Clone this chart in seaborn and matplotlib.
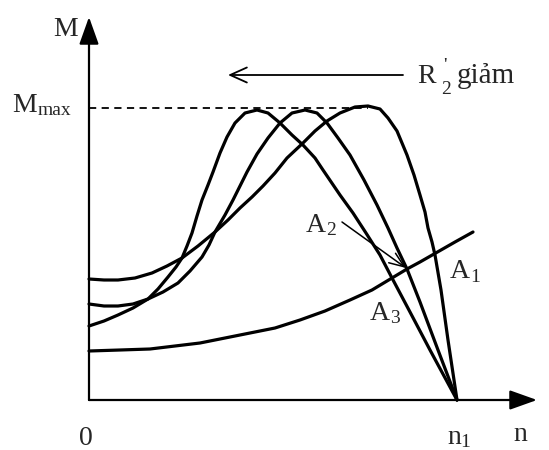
import pandas as pd
import seaborn as sns
import matplotlib
matplotlib.use("Agg")
import matplotlib.pyplot as plt

# --- curve data (n = speed, M = torque, pixel units) ---
M_MAX = 292

curve_c_n = [0, 15, 29, 44, 59, 69, 79, 87, 93, 98, 103, 108, 113, 119, 124, 131, 138, 146, 156, 168,
             179, 191, 203, 214, 226, 234, 251, 264, 277, 291, 303, 321, 341, 368]
curve_c_m = [74, 79, 85, 92, 101, 111, 123, 133, 142, 154, 167, 184, 200, 215, 228, 247, 263, 277, 287, 290,
             287, 277, 265, 255, 242, 230, 205, 187, 167, 145, 122, 88, 50, 0]

curve_b_n = [0, 15, 29, 44, 59, 74, 89, 101, 113, 120, 126, 136, 144, 151, 158, 168, 179, 191, 203, 216,
             228, 238, 249, 261, 275, 288, 299, 308, 318, 331, 349, 368]
curve_b_m = [96, 94, 94, 96, 101, 108, 117, 129, 143, 155, 168, 185, 200, 214, 228, 246, 262, 277, 287, 290,
             287, 277, 262, 245, 220, 195, 172, 152, 131, 98, 50, 0]

curve_a_n = [0, 15, 29, 46, 63, 78, 93, 109, 126, 139, 151, 163, 174, 186, 198, 214, 226, 238, 251, 266,
             279, 291, 299, 308, 318, 325, 331, 336, 339, 343, 346, 352, 359, 368]
curve_a_m = [121, 120, 120, 122, 127, 134, 142, 154, 168, 180, 192, 203, 214, 227, 242, 257, 269, 279, 287, 293,
             294, 291, 282, 269, 245, 225, 205, 188, 172, 158, 145, 110, 60, 0]

load_n = [0, 31, 61, 86, 111, 136, 161, 186, 211, 236, 261, 283, 303, 318, 331, 345, 366, 384]
load_m = [49, 50, 51, 54, 57, 62, 67, 72, 80, 89, 100, 110, 122, 131, 138, 146, 158, 168]

SERIF = ["Liberation Serif", "DejaVu Serif"]

sns.set_theme(style="white")
plt.rcParams["font.family"] = SERIF

fig = plt.figure(figsize=(5.49, 4.5), dpi=100)
ax = fig.add_axes([0, 0, 1, 1])
ax.set_xlim(-89, 460)
ax.set_ylim(-50, 400)
ax.axis("off")

curves = [(curve_c_n, curve_c_m), (curve_b_n, curve_b_m), (curve_a_n, curve_a_m), (load_n, load_m)]
for xs, ys in curves:
    df = pd.DataFrame({"n": xs, "M": ys})
    sns.lineplot(data=df, x="n", y="M", sort=False, ax=ax, color="black",
                 linewidth=2.3, solid_joinstyle="round", solid_capstyle="round")

# axes with arrow heads
ax.plot([0, 0], [0, 370], color="black", lw=1.6)
ax.plot([0, 430], [0, 0], color="black", lw=1.6)
ax.annotate("", xy=(0, 383), xytext=(0, 360),
            arrowprops=dict(arrowstyle="-|>,head_length=1.4,head_width=0.5", color="black",
                            lw=1.6, shrinkA=0, shrinkB=0))
ax.annotate("", xy=(448, 0), xytext=(425, 0),
            arrowprops=dict(arrowstyle="-|>,head_length=1.4,head_width=0.5", color="black",
                            lw=1.6, shrinkA=0, shrinkB=0))

# M max dashed line
ax.plot([0, 279], [M_MAX, M_MAX], color="black", lw=1.3, linestyle=(0, (4, 3)))

# R'2 giam arrow
ax.annotate("", xy=(139, 325), xytext=(314, 325),
            arrowprops=dict(arrowstyle="->,head_length=1.0,head_width=0.45", color="black",
                            lw=1.3, shrinkA=0, shrinkB=0))
# A2 pointer
ax.annotate("", xy=(317, 132), xytext=(253, 178),
            arrowprops=dict(arrowstyle="->,head_length=0.9,head_width=0.35", color="black",
                            lw=1.1, shrinkA=0, shrinkB=0))

fs = 20
sub = 14
ax.text(-23, 370, "M", fontsize=fs, ha="center", va="center")
ax.text(-77, 288, "M", fontsize=fs, ha="left", va="baseline")
ax.text(-51, 285, "max", fontsize=sub, ha="left", va="baseline")
ax.text(-3, -45, "0", fontsize=fs, ha="center", va="baseline")
ax.text(358, -44, "n", fontsize=fs, ha="left", va="baseline")
ax.text(371, -47, "1", fontsize=sub, ha="left", va="baseline")
ax.text(431, -41, "n", fontsize=fs, ha="center", va="baseline")
ax.text(328, 317, "R", fontsize=fs, ha="left", va="baseline")
ax.text(356, 329, "'", fontsize=sub, ha="center", va="baseline")
ax.text(357, 306, "2", fontsize=sub, ha="center", va="baseline")
ax.text(368, 317, "giảm", fontsize=fs + 1, ha="left", va="baseline")
ax.text(217, 168, "A", fontsize=fs, ha="left", va="baseline")
ax.text(237, 165, "2", fontsize=sub, ha="left", va="baseline")
ax.text(361, 122, "A", fontsize=fs, ha="left", va="baseline")
ax.text(381, 118, "1", fontsize=sub, ha="left", va="baseline")
ax.text(281, 80, "A", fontsize=fs, ha="left", va="baseline")
ax.text(301, 77, "3", fontsize=sub, ha="left", va="baseline")

fig.savefig("out.png", dpi=100, facecolor="white")
